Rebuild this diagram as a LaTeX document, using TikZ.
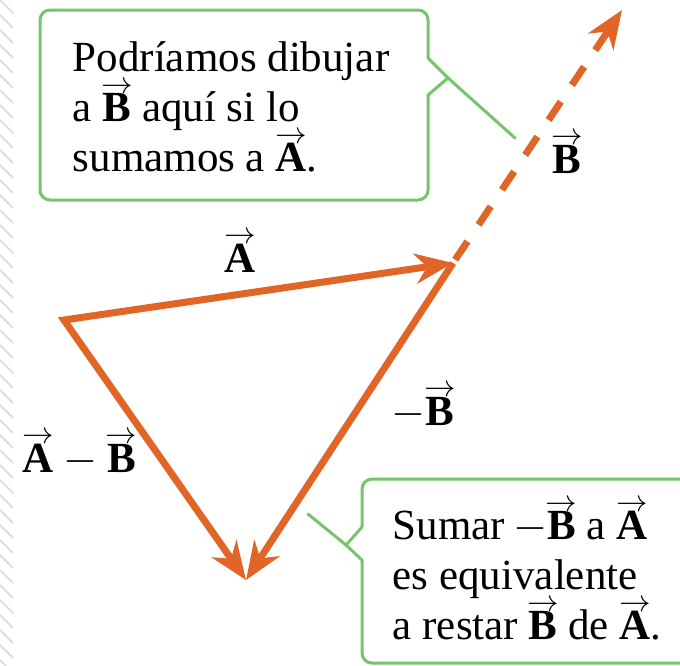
\documentclass[tikz,border=0pt]{standalone}
\usepackage{graphicx}
\usepackage{fontspec}
\setmainfont{Liberation Serif}
\usetikzlibrary{arrows.meta}
\definecolor{vorange}{RGB}{225,101,38}
\definecolor{cgreen}{RGB}{118,196,108}
\definecolor{hatchgray}{RGB}{218,218,218}
% bold letter with a thin arrow of about its own width above it
\newcommand{\vbold}[1]{{\setbox0\hbox{\textbf{#1}}\leavevmode
  \rlap{\hbox to \wd0{\hss\raisebox{0.66em}{\scalebox{0.72}[0.7]{$\rightarrow$}}\hss}}\box0}}
\newcommand{\vecA}{\vbold{A}}
\newcommand{\vecB}{\vbold{B}}
\tikzset{vtip/.tip={Stealth[length=9.5pt,width=7.5pt,inset=3pt]}}
\begin{document}
\begin{tikzpicture}[x=0.25pt,y=-0.25pt,
  vec/.style={line width=1.75pt, draw=vorange, line join=miter},
  callout/.style={draw=cgreen, line width=0.75pt, line join=miter, line cap=round},
  txt/.style={font=\fontsize{10.75}{12.5}\selectfont, text=black, inner sep=0pt},
]
\useasboundingbox[fill=white] (0,0) rectangle (680,665);

% faint hatching at the left edge
\begin{scope}
  \clip (0,0) rectangle (13,665);
  \foreach \y in {-30,-15,...,680}
    \draw[hatchgray, line width=0.4pt] (0,\y) -- (25,\y+25);
\end{scope}

% points
\coordinate (P) at (64,320);
\coordinate (T) at (453,263);
\coordinate (Q) at (246,580);
\coordinate (E) at (622,10);

% vectors
\draw[vec, arrows={vtip-vtip}] (T) -- (P) -- (Q);
\draw[vec, -{vtip}] (T) -- (Q);
\draw[vec, dash pattern=on 5.5pt off 5pt, dash phase=-1pt, -{vtip}] (T) -- (E);

% vector labels
\node[txt, anchor=base] (lA) at (240,272) {\vecA};
\node[txt, anchor=base] (lB) at (567,173) {\vecB};
\node[txt, anchor=base west] (lmB) at (391,425) {$-$\vecB};
\node[txt, anchor=base west] (lAB) at (22,472) {\vecA${}-{}$\vecB};

% callout 1
\coordinate (c1v) at (448,78);
\coordinate (c1e) at (515,138);
\draw[callout, rounded corners=2.5pt] (428,95) -- (428,200) -- (40,200) -- (40,10) -- (428,10) -- (428,58);
\draw[callout] (428,58) -- (c1v) -- (428,95);
\draw[callout] (c1v) -- (c1e);
\node[txt, anchor=north west, align=left] (c1) at (72,41)
  {Podríamos dibujar\\a \vecB{} aquí si lo\\sumamos a \vecA.};

% callout 2
\coordinate (c2v) at (346,545);
\coordinate (c2e) at (308,514);
\draw[callout, rounded corners=2.5pt] (362,560) -- (362,663) -- (720,663);
\draw[callout, rounded corners=2.5pt] (720,479) -- (362,479) -- (362,527);
\draw[callout] (362,527) -- (c2v) -- (362,560);
\draw[callout] (c2v) -- (c2e);
\node[txt, anchor=north west, align=left] (c2) at (392,499)
  {Sumar\hspace{2pt}$-$\vecB{} a \vecA\\es equivalente\\a restar \vecB{} de \vecA.};
\end{tikzpicture}
\end{document}
